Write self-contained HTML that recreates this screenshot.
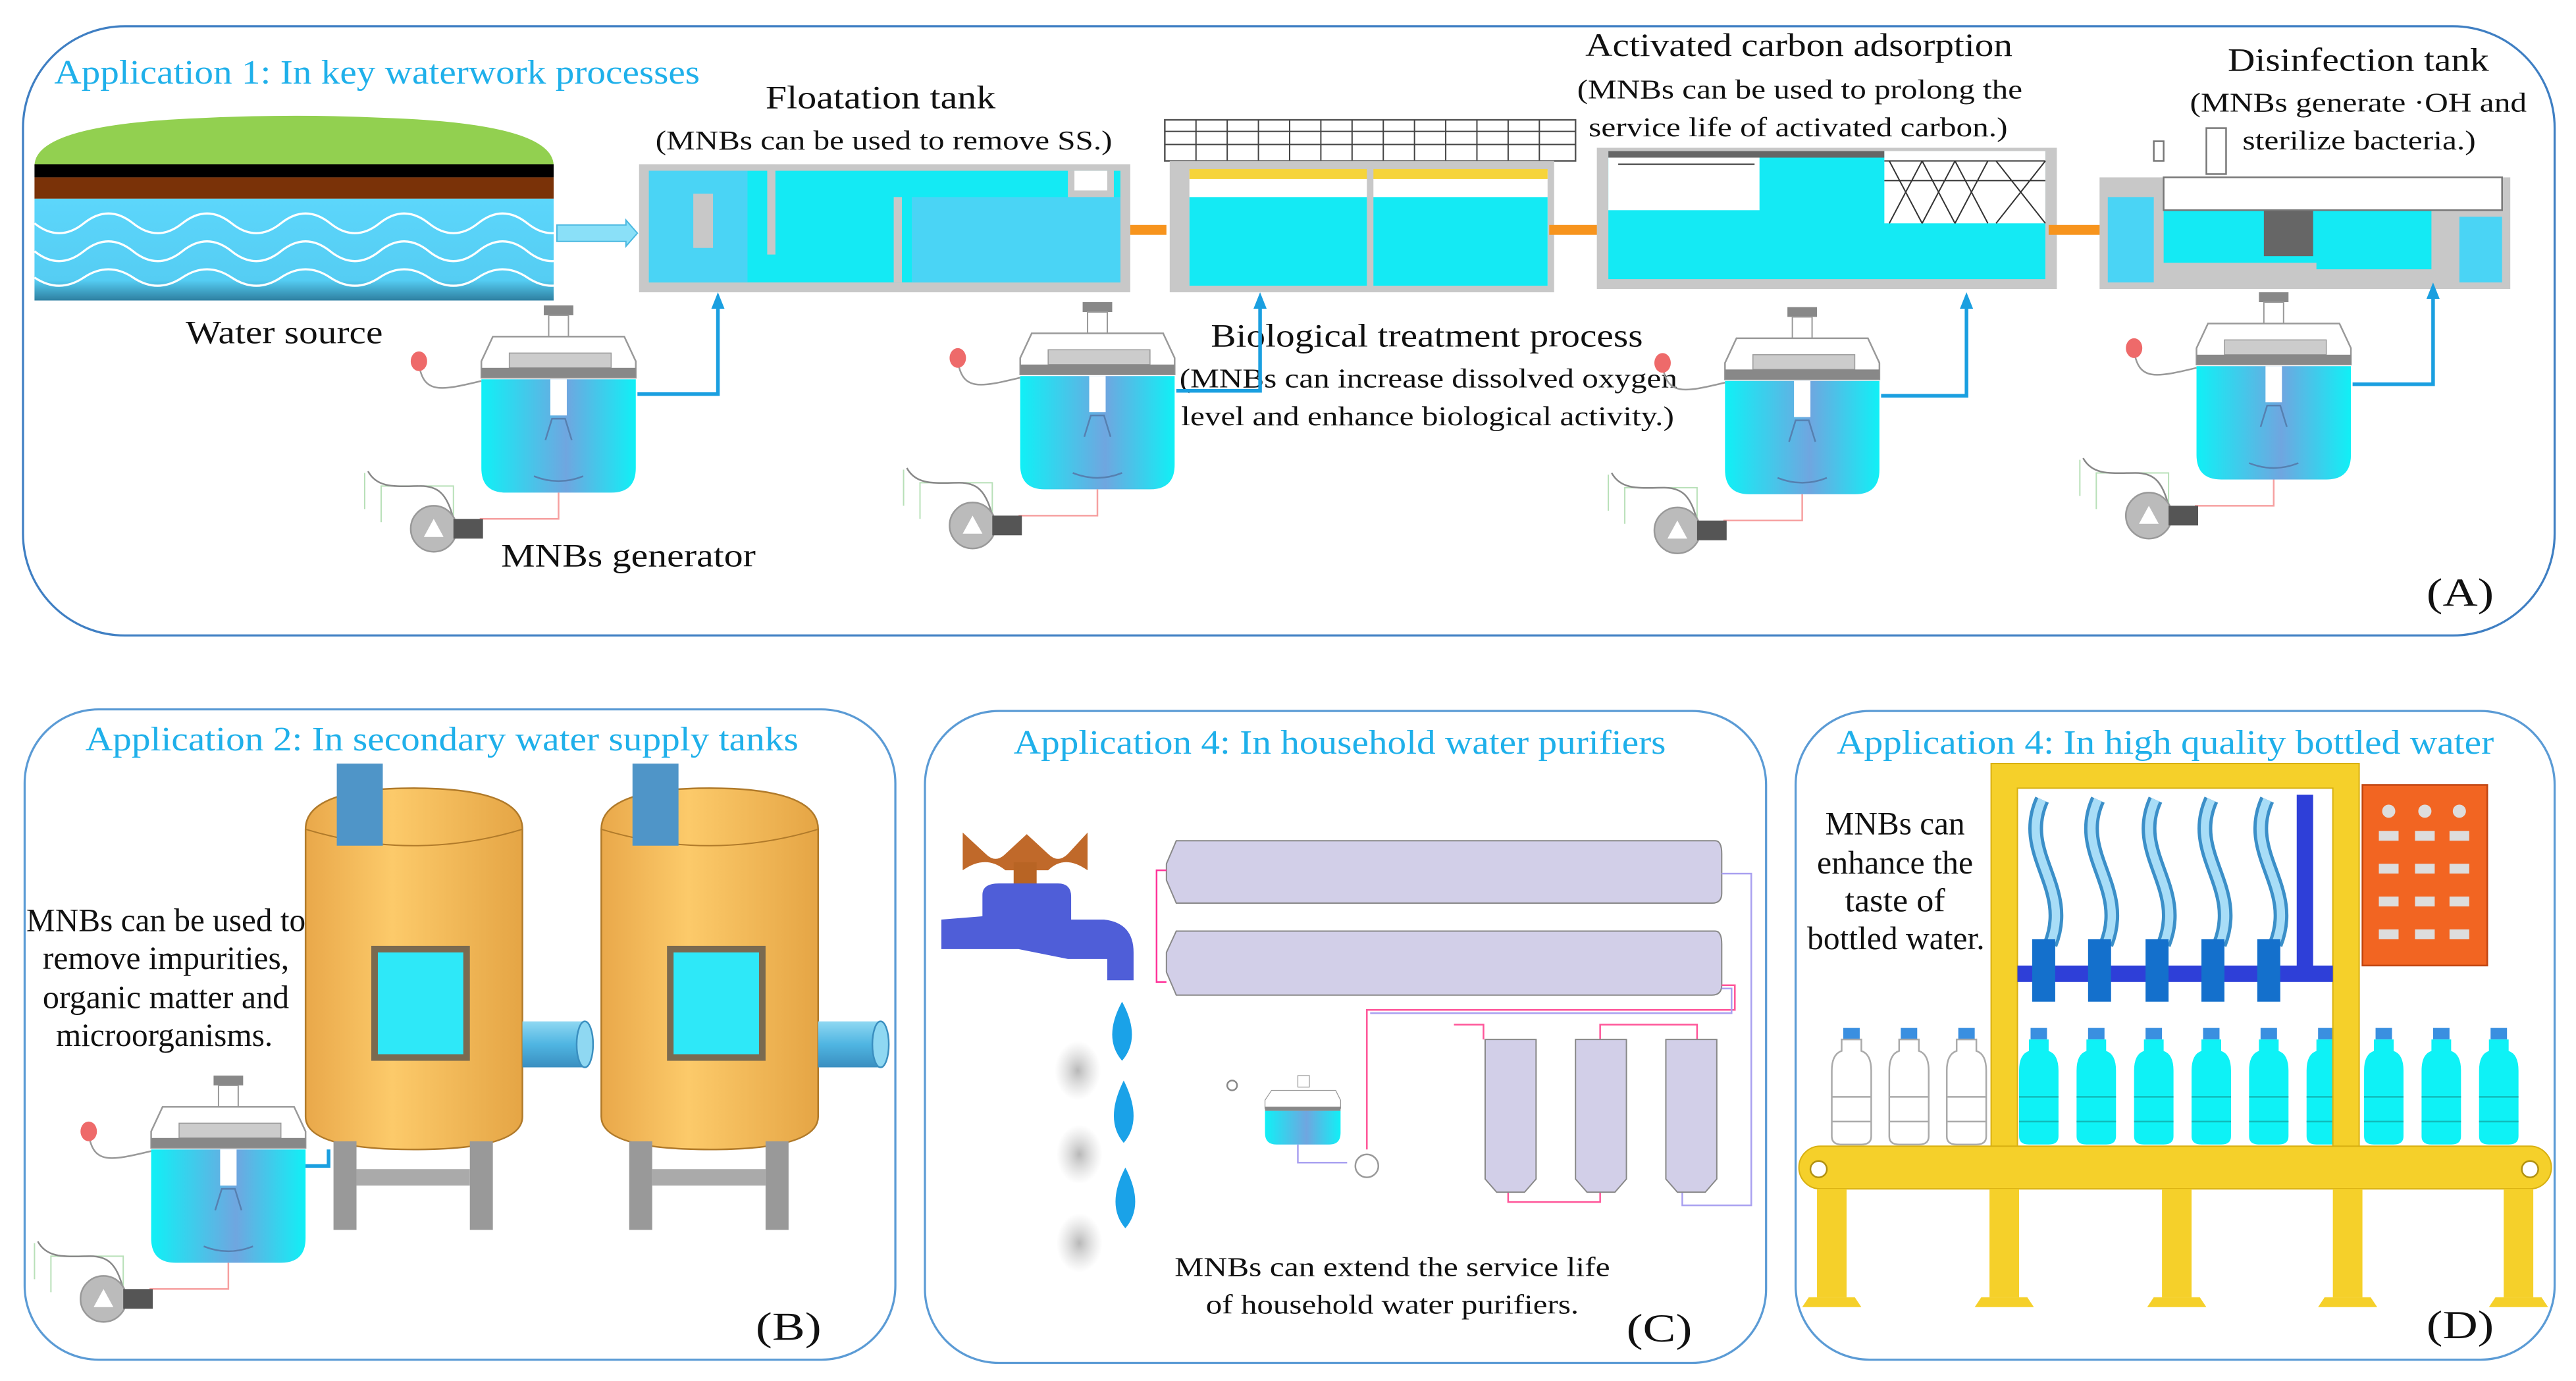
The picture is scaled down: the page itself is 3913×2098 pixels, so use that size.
<!DOCTYPE html>
<html><head><meta charset="utf-8"><style>
html,body{margin:0;padding:0;background:#fff;}
svg{display:block;}
text{font-family:"Liberation Serif",serif;}
.t{fill:#1fb0ea;font-size:21px;}
.l{fill:#111;font-size:20px;}
.s{fill:#111;font-size:16.5px;}
</style></head><body>
<svg width="3913" height="2098" viewBox="0 0 1568 841" preserveAspectRatio="none" xmlns="http://www.w3.org/2000/svg">
<defs>
<linearGradient id="tk" x1="0" x2="1"><stop offset="0" stop-color="#10f0f6"/><stop offset="0.55" stop-color="#6fa6e0"/><stop offset="1" stop-color="#10f0f6"/></linearGradient>
<linearGradient id="src" x1="0" y1="0" x2="0" y2="1"><stop offset="0" stop-color="#5cd6fb"/><stop offset="0.8" stop-color="#55cdf3"/><stop offset="1" stop-color="#2e7fa0"/></linearGradient>
<linearGradient id="cyl" x1="0" x2="1"><stop offset="0" stop-color="#e9a84a"/><stop offset="0.4" stop-color="#fcca6a"/><stop offset="1" stop-color="#e5a545"/></linearGradient>
<linearGradient id="pipeB" x1="0" y1="0" x2="0" y2="1"><stop offset="0" stop-color="#8fd8f2"/><stop offset="0.5" stop-color="#4fb5e2"/><stop offset="1" stop-color="#3a8fc0"/></linearGradient>
<radialGradient id="blur"><stop offset="0" stop-color="#999" stop-opacity="0.7"/><stop offset="1" stop-color="#bbb" stop-opacity="0"/></radialGradient>
<g id="gen">
  <path d="M255,222 C258,240 268,238 293,232" fill="none" stroke="#999" stroke-width="1"/>
  <ellipse cx="255" cy="220" rx="5" ry="6" fill="#ee6a6a"/>
  <path d="M222,288 L222,310 M232,318 L232,296 L276,296 L276,318" fill="none" stroke="#8c8" stroke-width="0.8" opacity="0.6"/>
  <path d="M224,287 C230,298 242,296 256,296 C266,296 272,300 276,316" fill="none" stroke="#888" stroke-width="1"/>
  <rect x="331" y="186" width="18" height="6" fill="#888"/>
  <rect x="334" y="192" width="12" height="14" fill="#fff" stroke="#999" stroke-width="0.8"/>
  <path d="M300,205 L380,205 L387,220 L387,230 L293,230 L293,220 Z" fill="#fff" stroke="#999" stroke-width="1"/>
  <rect x="310" y="215" width="62" height="9" fill="#ccc" stroke="#999" stroke-width="0.6"/>
  <rect x="293" y="224" width="94" height="6" fill="#888"/>
  <path d="M293,231 L387,231 L387,285 Q387,300 372,300 L308,300 Q293,300 293,285 Z" fill="url(#tk)"/>
  <rect x="335" y="231" width="10" height="22" fill="#fff"/>
  <path d="M332,268 L336,255 L344,255 L348,268 M325,290 Q340,296 355,290" fill="none" stroke="#5680b0" stroke-width="1"/>
  <path d="M340,300 L340,316 L292,316" fill="none" stroke="#f6a0a0" stroke-width="1"/>
  <circle cx="264" cy="322" r="14" fill="#bbb" stroke="#999"/>
  <path d="M258,327 L264,316 L270,327 Z" fill="#fff"/>
  <rect x="276" y="316" width="18" height="12" fill="#555"/>
</g>
</defs>

<rect x="14" y="16" width="1541" height="371" rx="62" fill="none" stroke="#3f7fc3" stroke-width="1.3"/>
<rect x="15" y="432" width="530" height="396" rx="45" fill="none" stroke="#5b9bd5" stroke-width="1.3"/>
<rect x="563" y="433" width="512" height="397" rx="45" fill="none" stroke="#5b9bd5" stroke-width="1.3"/>
<rect x="1093" y="433" width="462" height="395" rx="45" fill="none" stroke="#5b9bd5" stroke-width="1.3"/>

<!-- Panel A -->
<text x="33" y="51" class="t" textLength="393" lengthAdjust="spacingAndGlyphs">Application 1: In key waterwork processes</text>
<path d="M21,101 Q21,76 120,72 Q180,69 240,72 Q337,76 337,101 Z" fill="#92d050"/>
<rect x="21" y="100" width="316" height="8" fill="#000"/>
<rect x="21" y="108" width="316" height="13" fill="#7a3208"/>
<rect x="21" y="121" width="316" height="62" fill="url(#src)"/>
<g fill="none" stroke="#fff" stroke-width="1.3">
<path d="M21,136 q15,12 30,0 t30,0 t30,0 t30,0 t30,0 t30,0 t30,0 t30,0 t30,0 t30,0 t30,0"/>
<path d="M21,153 q15,12 30,0 t30,0 t30,0 t30,0 t30,0 t30,0 t30,0 t30,0 t30,0 t30,0 t30,0"/>
<path d="M21,169 q15,10 30,0 t30,0 t30,0 t30,0 t30,0 t30,0 t30,0 t30,0 t30,0 t30,0 t30,0"/>
</g>
<text x="113" y="209" class="l" textLength="120" lengthAdjust="spacingAndGlyphs">Water source</text>
<path d="M339,137 L381,137 L381,134 L388,142 L381,150 L381,147 L339,147 Z" fill="#8ae0f8" stroke="#4ab8e0" stroke-width="0.8"/>
<text x="466" y="66" class="l" textLength="140" lengthAdjust="spacingAndGlyphs">Floatation tank</text>
<text x="399" y="91" class="s" textLength="278" lengthAdjust="spacingAndGlyphs">(MNBs can be used to remove SS.)</text>
<rect x="389" y="100" width="299" height="78" fill="#c8c8c8"/>
<rect x="395" y="104" width="287" height="68" fill="#14eaf4"/>
<rect x="395" y="104" width="60" height="68" fill="#4ad4f5"/>
<rect x="555" y="120" width="127" height="52" fill="#4ad4f5"/>
<rect x="422" y="118" width="12" height="33" fill="#c8c8c8"/>
<rect x="467" y="100" width="5" height="55" fill="#c8c8c8"/>
<rect x="544" y="120" width="5" height="52" fill="#c8c8c8"/>
<path d="M652,104 L652,118 L676,118 L676,104" fill="#fff" stroke="#c8c8c8" stroke-width="4"/>
<rect x="688" y="137" width="22" height="6" fill="#f7941d"/>
<text x="737" y="211" class="l" textLength="263" lengthAdjust="spacingAndGlyphs">Biological treatment process</text>
<text x="718" y="236" class="s" textLength="303" lengthAdjust="spacingAndGlyphs">(MNBs can increase dissolved oxygen</text>
<text x="719" y="259" class="s" textLength="300" lengthAdjust="spacingAndGlyphs">level and enhance biological activity.)</text>
<rect x="709" y="73" width="250" height="25" fill="#fff" stroke="#555" stroke-width="1"/>
<g stroke="#444" stroke-width="0.8"><path d="M709,80 H959 M709,88 H959 M728,73 V98 M747,73 V98 M766,73 V98 M785,73 V98 M804,73 V98 M823,73 V98 M842,73 V98 M861,73 V98 M880,73 V98 M899,73 V98 M918,73 V98 M937,73 V98"/></g>
<rect x="712" y="98" width="234" height="80" fill="#c8c8c8"/>
<rect x="724" y="104" width="218" height="70" fill="#fff"/>
<rect x="724" y="103" width="218" height="6" fill="#f6d43a"/>
<rect x="724" y="120" width="218" height="54" fill="#14eaf4"/>
<rect x="832" y="98" width="4" height="78" fill="#c8c8c8"/>
<rect x="943" y="137" width="35" height="6" fill="#f7941d"/>
<text x="965" y="34" class="l" textLength="260" lengthAdjust="spacingAndGlyphs">Activated carbon adsorption</text>
<text x="960" y="60" class="s" textLength="271" lengthAdjust="spacingAndGlyphs">(MNBs can be used to prolong the</text>
<text x="967" y="83" class="s" textLength="255" lengthAdjust="spacingAndGlyphs">service life of activated carbon.)</text>
<rect x="972" y="90" width="280" height="86" fill="#c8c8c8"/>
<rect x="979" y="92" width="266" height="78" fill="#14eaf4"/>
<rect x="979" y="92" width="92" height="36" fill="#fff"/>
<rect x="979" y="92" width="168" height="4" fill="#666"/>
<rect x="1147" y="92" width="98" height="44" fill="#fff"/>
<g stroke="#333" stroke-width="0.8" fill="none"><path d="M1150,98 L1170,136 M1170,98 L1150,136 M1170,98 L1190,136 M1190,98 L1170,136 M1190,98 L1210,136 M1210,98 L1190,136 M1215,98 L1245,136 M1245,98 L1215,136 M1147,110 H1245 M1147,98 H1245 M985,100 H1068"/></g>
<rect x="1247" y="137" width="35" height="6" fill="#f7941d"/>
<text x="1356" y="43" class="l" textLength="159" lengthAdjust="spacingAndGlyphs">Disinfection tank</text>
<text x="1333" y="68" class="s" textLength="205" lengthAdjust="spacingAndGlyphs">(MNBs generate ·OH and</text>
<text x="1365" y="91" class="s" textLength="142" lengthAdjust="spacingAndGlyphs">sterilize bacteria.)</text>
<rect x="1278" y="108" width="250" height="68" fill="#c8c8c8"/>
<rect x="1283" y="120" width="28" height="52" fill="#4ad4f5"/>
<rect x="1317" y="128" width="98" height="32" fill="#14eaf4"/>
<rect x="1410" y="128" width="70" height="36" fill="#14eaf4"/>
<rect x="1497" y="132" width="26" height="40" fill="#4ad4f5"/>
<rect x="1378" y="122" width="30" height="34" fill="#666"/>
<rect x="1317" y="108" width="206" height="20" fill="#fff" stroke="#777" stroke-width="1"/>
<rect x="1343" y="78" width="12" height="28" fill="#fff" stroke="#777"/>
<rect x="1311" y="86" width="6" height="12" fill="#fff" stroke="#777"/>
<use href="#gen"/>
<use href="#gen" transform="translate(328,-2)"/>
<use href="#gen" transform="translate(757,1)"/>
<use href="#gen" transform="translate(1044,-8)"/>
<g fill="none" stroke="#1a9fe0" stroke-width="2.2">
<path d="M388,240 H437 V186"/><path d="M716,238 H767 V186"/><path d="M1145,241 H1197 V186"/><path d="M1432,234 H1481 V180"/>
<path d="M145,710 H200 V700"/>
</g>
<g fill="#1a9fe0"><path d="M433,188 L437,178 L441,188Z"/><path d="M763,188 L767,178 L771,188Z"/><path d="M1193,188 L1197,178 L1201,188Z"/><path d="M1477,182 L1481,172 L1485,182Z"/></g>
<text x="305" y="345" class="l" textLength="155" lengthAdjust="spacingAndGlyphs">MNBs generator</text>
<text x="1477" y="369" font-size="24" fill="#111" textLength="41" lengthAdjust="spacingAndGlyphs">(A)</text>

<!-- Panel B -->
<text x="52" y="457" class="t" textLength="434" lengthAdjust="spacingAndGlyphs">Application 2: In secondary water supply tanks</text>
<g id="vessel">
<path d="M186,505 Q186,480 252,480 Q318,480 318,505 L318,680 Q318,700 252,700 Q186,700 186,680 Z" fill="url(#cyl)" stroke="#b07a2a" stroke-width="1"/>
<path d="M186,505 Q252,525 318,505" fill="none" stroke="#b07a2a" stroke-width="0.8"/>
<rect x="205" y="465" width="28" height="50" fill="#4f95c8"/>
<rect x="226" y="576" width="60" height="70" fill="#7a6a50"/>
<rect x="230" y="580" width="52" height="62" fill="#2ee8f8"/>
<rect x="318" y="622" width="38" height="28" fill="url(#pipeB)"/>
<ellipse cx="356" cy="636" rx="5" ry="14" fill="#8fd8f2" stroke="#3a8fc0"/>
<rect x="203" y="695" width="14" height="54" fill="#999"/><rect x="286" y="695" width="14" height="54" fill="#999"/>
<rect x="217" y="712" width="69" height="10" fill="#aaa"/>
</g>
<use href="#vessel" transform="translate(180,0)"/>
<text x="16" y="567" class="l" font-size="18" textLength="170" lengthAdjust="spacingAndGlyphs">MNBs can be used to</text>
<text x="26" y="590" class="l" font-size="18" textLength="150" lengthAdjust="spacingAndGlyphs">remove impurities,</text>
<text x="26" y="614" class="l" font-size="18" textLength="150" lengthAdjust="spacingAndGlyphs">organic matter and</text>
<text x="34" y="637" class="l" font-size="18" textLength="132" lengthAdjust="spacingAndGlyphs">microorganisms.</text>
<use href="#gen" transform="translate(-201,469)"/>
<text x="460" y="816" font-size="24" fill="#111" textLength="40" lengthAdjust="spacingAndGlyphs">(B)</text>

<!-- Panel C -->
<text x="617" y="459" class="t" textLength="397" lengthAdjust="spacingAndGlyphs">Application 4: In household water purifiers</text>
<path d="M586,507 L600,520 Q606,526 612,520 L625,508 L638,520 Q644,526 650,520 L662,507 L662,530 Q648,520 638,530 L612,530 Q600,520 586,530 Z" fill="#c0692a"/>
<rect x="617" y="525" width="14" height="18" fill="#b86424"/>
<path d="M598,545 Q598,538 608,538 L644,538 Q652,538 652,546 L652,560 L672,560 Q690,562 690,580 L690,597 L674,597 L674,584 L650,584 L620,578 L573,578 L573,560 L598,558 Z" fill="#4f5ed8"/>
<g fill="#1aa2e8"><path d="M683,610 Q671,632 683,646 Q695,632 683,610Z"/><path d="M684,658 Q672,682 684,696 Q696,682 684,658Z"/><path d="M685,711 Q673,734 685,748 Q697,734 685,711Z"/></g>
<g fill="url(#blur)"><ellipse cx="656" cy="652" rx="14" ry="18"/><ellipse cx="657" cy="703" rx="14" ry="18"/><ellipse cx="657" cy="757" rx="14" ry="18"/></g>
<path d="M716,512 L1044,512 Q1048,512 1048,520 L1048,544 Q1048,550 1042,550 L716,550 L710,536 L710,526 Z" fill="#d2cfe8" stroke="#888" stroke-width="0.8"/>
<path d="M716,567 L1044,567 Q1048,567 1048,575 L1048,600 Q1048,606 1042,606 L716,606 L710,592 L710,580 Z" fill="#d2cfe8" stroke="#888" stroke-width="0.8"/>
<g fill="none" stroke-width="1">
<path d="M710,530 H704 V598 H710" stroke="#f39"/>
<path d="M1048,532 H1066 V734 H1024 V722" stroke="#a9a0f0"/>
<path d="M1048,600 H1056 V615 H832 V700" stroke="#f59"/>
<path d="M1048,602 H1054 V617 H834" stroke="#a9a0f0"/>
<path d="M885,624 H903 V633 M974,633 V624 H1033 V633 M918,724 V732 H974 V724" stroke="#f59"/>
<path d="M790,697 V708 H820" stroke="#a9a0f0"/>
</g>
<g fill="#d2cfe8" stroke="#888" stroke-width="0.8">
<path d="M904,633 H935 V718 L928,726 H911 L904,718 Z"/>
<path d="M959,633 H990 V718 L983,726 H966 L959,718 Z"/>
<path d="M1014,633 H1045 V718 L1038,726 H1021 L1014,718 Z"/>
</g>
<g transform="translate(770,655) scale(0.5)">
<rect x="40" y="0" width="14" height="14" fill="#fff" stroke="#999"/>
<path d="M8,18 L86,18 L92,30 L92,40 L0,40 L0,30 Z" fill="#fff" stroke="#999"/>
<rect x="0" y="38" width="92" height="5" fill="#888"/>
<path d="M0,43 H92 V70 Q92,84 78,84 H14 Q0,84 0,70 Z" fill="url(#tk)"/>
</g>
<circle cx="832" cy="710" r="7" fill="#fff" stroke="#999"/>
<circle cx="750" cy="661" r="3" fill="none" stroke="#888"/>
<text x="715" y="777" class="s" textLength="265" lengthAdjust="spacingAndGlyphs">MNBs can extend the service life</text>
<text x="734" y="800" class="s" textLength="227" lengthAdjust="spacingAndGlyphs">of household water purifiers.</text>
<text x="990" y="817" font-size="24" fill="#111" textLength="40" lengthAdjust="spacingAndGlyphs">(C)</text>

<!-- Panel D -->
<text x="1118" y="459" class="t" textLength="400" lengthAdjust="spacingAndGlyphs">Application 4: In high quality bottled water</text>
<text x="1111" y="508" class="l" font-size="17.5" textLength="85" lengthAdjust="spacingAndGlyphs">MNBs can</text>
<text x="1106" y="532" class="l" font-size="17.5" textLength="95" lengthAdjust="spacingAndGlyphs">enhance the</text>
<text x="1123" y="555" class="l" font-size="17.5" textLength="61" lengthAdjust="spacingAndGlyphs">taste of</text>
<text x="1100" y="578" class="l" font-size="17.5" textLength="108" lengthAdjust="spacingAndGlyphs">bottled water.</text>
<rect x="1438" y="478" width="76" height="110" fill="#f26522" stroke="#c04410"/>
<g fill="#ddd"><circle cx="1454" cy="494" r="4"/><circle cx="1476" cy="494" r="4"/><circle cx="1497" cy="494" r="4"/>
<rect x="1448" y="506" width="12" height="6"/><rect x="1470" y="506" width="12" height="6"/><rect x="1491" y="506" width="12" height="6"/>
<rect x="1448" y="526" width="12" height="6"/><rect x="1470" y="526" width="12" height="6"/><rect x="1491" y="526" width="12" height="6"/>
<rect x="1448" y="546" width="12" height="6"/><rect x="1470" y="546" width="12" height="6"/><rect x="1491" y="546" width="12" height="6"/>
<rect x="1448" y="566" width="12" height="6"/><rect x="1470" y="566" width="12" height="6"/><rect x="1491" y="566" width="12" height="6"/></g>
<g id="btl"><rect x="1122" y="626" width="10" height="7" fill="#3a8fe0"/><path d="M1121,633 H1133 V640 Q1139,642 1139,652 V692 Q1139,697 1133,697 H1121 Q1115,697 1115,692 V652 Q1115,642 1121,640 Z" fill="#fff" stroke="#aaa"/><path d="M1115,668 H1139 M1115,683 H1139" stroke="#aaa"/></g>
<use href="#btl" transform="translate(35,0)"/><use href="#btl" transform="translate(70,0)"/>
<g id="cb"><rect x="1236" y="626" width="10" height="7" fill="#3a8fe0"/><path d="M1235,633 H1247 V640 Q1253,642 1253,652 V692 Q1253,697 1247,697 H1235 Q1229,697 1229,692 V652 Q1229,642 1235,640 Z" fill="#0ef2f6"/><path d="M1229,668 H1253 M1229,683 H1253" stroke="#1bb"/></g>
<use href="#cb" transform="translate(35,0)"/><use href="#cb" transform="translate(70,0)"/><use href="#cb" transform="translate(105,0)"/><use href="#cb" transform="translate(140,0)"/><use href="#cb" transform="translate(175,0)"/><use href="#cb" transform="translate(210,0)"/><use href="#cb" transform="translate(245,0)"/><use href="#cb" transform="translate(280,0)"/>
<path d="M1212,465 H1436 V700 H1420 V480 H1228 V700 H1212 Z" fill="#f5d02a" stroke="#d8b010" stroke-width="0.8"/>
<g fill="none" stroke="#3b8fc8" stroke-width="9"><path d="M1243,487 C1228,520 1262,540 1248,575"/><path d="M1277,487 C1262,520 1296,540 1282,575"/><path d="M1312,487 C1297,520 1331,540 1317,575"/><path d="M1346,487 C1331,520 1365,540 1351,575"/><path d="M1380,487 C1365,520 1399,540 1385,575"/></g>
<g fill="none" stroke="#a8ddf7" stroke-width="5"><path d="M1243,487 C1228,520 1262,540 1248,575"/><path d="M1277,487 C1262,520 1296,540 1282,575"/><path d="M1312,487 C1297,520 1331,540 1317,575"/><path d="M1346,487 C1331,520 1365,540 1351,575"/><path d="M1380,487 C1365,520 1399,540 1385,575"/></g>
<rect x="1228" y="588" width="192" height="10" fill="#2e3fd8"/>
<rect x="1398" y="484" width="10" height="108" fill="#2e3fd8"/>
<g fill="#1470cc"><rect x="1237" y="572" width="14" height="38"/><rect x="1271" y="572" width="14" height="38"/><rect x="1306" y="572" width="14" height="38"/><rect x="1340" y="572" width="14" height="38"/><rect x="1374" y="572" width="14" height="38"/></g>
<rect x="1095" y="698" width="458" height="26" rx="13" fill="#f5d02a" stroke="#d8b010" stroke-width="0.8"/>
<circle cx="1107" cy="712" r="5" fill="#fff" stroke="#b09010"/><circle cx="1540" cy="712" r="5" fill="#fff" stroke="#b09010"/>
<g fill="#f5d02a"><rect x="1106" y="724" width="18" height="66"/><rect x="1211" y="724" width="18" height="66"/><rect x="1316" y="724" width="18" height="66"/><rect x="1420" y="724" width="18" height="66"/><rect x="1524" y="724" width="18" height="66"/>
<path d="M1101,790 H1129 L1133,796 H1097Z M1206,790 H1234 L1238,796 H1202Z M1311,790 H1339 L1343,796 H1307Z M1415,790 H1443 L1447,796 H1411Z M1519,790 H1547 L1551,796 H1515Z"/></g>
<text x="1477" y="815" font-size="24" fill="#111" textLength="41" lengthAdjust="spacingAndGlyphs">(D)</text>
</svg>
</body></html>
